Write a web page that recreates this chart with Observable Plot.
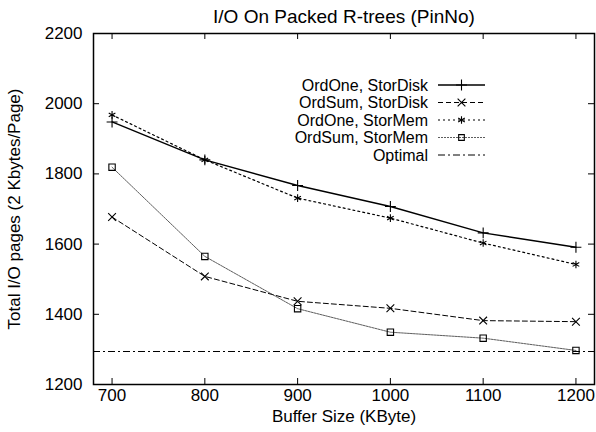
<!DOCTYPE html>
<html>
<head>
<meta charset="utf-8">
<script src="https://cdn.jsdelivr.net/npm/d3@7"></script>
<script src="https://cdn.jsdelivr.net/npm/@observablehq/plot@0.6"></script>
<style>
  html, body { margin: 0; padding: 0; background: white; }
  #wrap { position: relative; width: 596px; height: 432px; }
  #legend { position: absolute; left: 0; top: 0; pointer-events: none; }
</style>
</head>
<body>
<div id="wrap"></div>
<script>
// ---- data ----
const bufferSizes = [700, 800, 900, 1000, 1100, 1200];
const seriesNames = ["OrdOne, StorDisk", "OrdSum, StorDisk", "OrdOne, StorMem", "OrdSum, StorMem", "Optimal"];
const ordOneStorDisk = [1948, 1840, 1767, 1707, 1632, 1591];
const ordSumStorDisk = [1677, 1508, 1437, 1417, 1382, 1379];
const ordOneStorMem  = [1968, 1840, 1731, 1674, 1603, 1542];
const ordSumStorMem  = [1819, 1565, 1416, 1349, 1332, 1297];
const optimal = 1294;
const xTicks = [700, 800, 900, 1000, 1100, 1200];
const yTicks = [1200, 1400, 1600, 1800, 2000, 2200];
const title = "I/O On Packed R-trees (PinNo)";
const xLabel = "Buffer Size (KByte)";
const yLabel = "Total I/O pages (2 Kbytes/Page)";

// ---- styles ----
const styles = [
  {stroke: "black", strokeWidth: 1.4, dash: null, symbol: "plus", sym: d3.symbolPlus, fill: "none"},
  {stroke: "black", strokeWidth: 1, dash: "5,3", symbol: "times", sym: d3.symbolTimes, fill: "none"},
  {stroke: "black", strokeWidth: 1.2, dash: "2,3", symbol: "asterisk", sym: d3.symbolAsterisk, fill: "none"},
  {stroke: "#333", strokeWidth: 0.8, dash: "2,1", symbol: "square", sym: d3.symbolSquare2, fill: "none"},
  {stroke: "black", strokeWidth: 1, dash: "7,3,2,3"}
];
const seriesValues = [ordOneStorDisk, ordSumStorDisk, ordOneStorMem, ordSumStorMem];

const W = 596, H = 432, mL = 93, mR = 2, mT = 33, mB = 48;
const frameW = W - mL - mR, frameH = H - mT - mB;
const font = "'Liberation Sans', Arial, Helvetica, sans-serif";
const fs = 17;
const legendFs = 16;

const marks = [];
seriesValues.forEach((vals, i) => {
  const data = bufferSizes.map((x, j) => ({x, y: vals[j]}));
  const s = styles[i];
  marks.push(Plot.line(data, {x: "x", y: "y", stroke: s.stroke, strokeWidth: s.strokeWidth, strokeDasharray: s.dash}));
  marks.push(Plot.dot(data, {x: "x", y: "y", symbol: () => s.symbol, r: 3.6, stroke: "black", strokeWidth: 1.1, fill: s.fill}));
});
marks.push(Plot.ruleY([optimal], {stroke: "black", strokeWidth: 1, strokeDasharray: styles[4].dash}));

// inward ticks (left/right/bottom/top)
marks.push(Plot.tickY(yTicks, {y: d => d, insetRight: frameW - 6, stroke: "black", strokeWidth: 1}));
marks.push(Plot.tickY(yTicks, {y: d => d, insetLeft: frameW - 6, stroke: "black", strokeWidth: 1}));
marks.push(Plot.tickX(xTicks, {x: d => d, insetTop: frameH - 6, stroke: "black", strokeWidth: 1}));
marks.push(Plot.tickX(xTicks, {x: d => d, insetBottom: frameH - 6, stroke: "black", strokeWidth: 1}));

marks.push(Plot.axisX({ticks: xTicks, tickSize: 0, tickPadding: 4, tickFormat: d => String(d), label: null, fontSize: fs}));
marks.push(Plot.axisY({ticks: yTicks, tickSize: 0, tickPadding: 11, tickFormat: d => String(d), label: null, fontSize: fs}));
marks.push(Plot.frame({stroke: "black", strokeWidth: 1.5}));

marks.push(Plot.text([title], {text: d => d, frameAnchor: "top", lineAnchor: "middle", textAnchor: "middle", dy: -17, fontSize: 19}));
marks.push(Plot.text([xLabel], {text: d => d, frameAnchor: "bottom", lineAnchor: "middle", textAnchor: "middle", dy: 32, fontSize: fs}));
marks.push(Plot.text([yLabel], {text: d => d, frameAnchor: "left", lineAnchor: "middle", textAnchor: "middle", rotate: -90, dx: -79, fontSize: fs}));

const chart = Plot.plot({
  width: W, height: H,
  marginLeft: mL, marginRight: mR, marginTop: mT, marginBottom: mB,
  x: {domain: [680, 1220]},
  y: {domain: [1200, 2200]},
  style: {fontFamily: font, fontSize: fs + "px", background: "white", color: "black"},
  marks
});
const wrap = document.getElementById("wrap");
wrap.appendChild(chart);

// ---- legend overlay (inside plot area, top right) ----
const leg = d3.select(wrap).append("svg").attr("id", "legend")
  .attr("width", W).attr("height", H);
seriesNames.forEach((name, i) => {
  const y = 85 + 17.5 * i;
  const s = styles[i];
  leg.append("text").attr("x", 428).attr("y", y).attr("dy", "0.35em")
    .attr("text-anchor", "end").attr("font-family", font).attr("font-size", legendFs)
    .attr("fill", "black").text(name);
  leg.append("line").attr("x1", 438).attr("x2", 485).attr("y1", y).attr("y2", y)
    .attr("stroke", s.stroke).attr("stroke-width", s.strokeWidth)
    .attr("stroke-dasharray", s.dash);
  if (s.sym) {
    leg.append("path").attr("d", d3.symbol(s.sym, 3.6 * 3.6 * Math.PI)())
      .attr("transform", `translate(461.5,${y})`)
      .attr("stroke", "black").attr("stroke-width", 1.1).attr("fill", s.fill);
  }
});
</script>
</body>
</html>
